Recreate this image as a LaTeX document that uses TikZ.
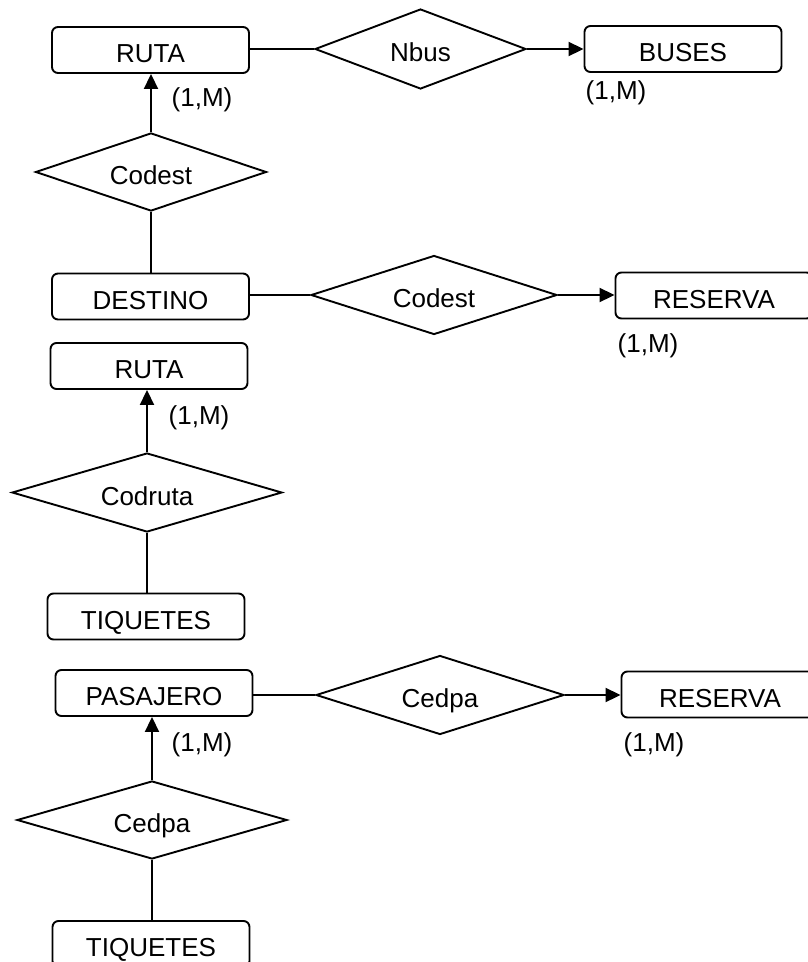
\documentclass[tikz,border=0pt]{standalone}
\usepackage{fontspec}
\setmainfont{Liberation Sans}
\usetikzlibrary{shapes.geometric,arrows.meta}
\begin{document}
\begin{tikzpicture}[x=1pt,y=-1pt,
  line width=1.9pt,
  every node/.style={font=\fontsize{26}{31}\selectfont},
  lifted/.style={text height=25pt,text depth=0pt},
  entity/.style={draw,rectangle,rounded corners=6pt,minimum width=197pt,minimum height=46pt,inner sep=0pt,lifted},
  rel/.style={draw,diamond,inner sep=0pt},
  reltext/.style={inner sep=0pt,lifted},
  card/.style={inner sep=0pt},
  arr/.style={-{Triangle[length=15pt,width=14pt]}}]
\useasboundingbox (0,0) rectangle (808,962);
\clip (0,0) rectangle (808,962);

% RUTA -- Nbus --> BUSES
\node[entity] (ruta1) at (150.5,50) {RUTA};
\node[rel,minimum width=211pt,minimum height=80pt] (nbus) at (420.5,49) {};
\node[reltext] (nbust) at (nbus) {Nbus};
\node[entity] (buses) at (683,49) {BUSES};
\node[card] (c1) at (202,100) {(1,M)};
\node[card] (c2) at (616,93) {(1,M)};
\draw (ruta1.east |- nbus.west) -- (nbus.west);
\draw[arr] (nbus.east) -- (nbus.east -| buses.west);

% DESTINO -- Codest --> RUTA
\node[rel,minimum width=231pt,minimum height=78pt] (codest1) at (151,172) {};
\node[reltext] (codest1t) at (codest1) {Codest};
\node[entity] (destino) at (150.5,296.5) {DESTINO};
\draw[arr] (codest1.north) -- (codest1.north |- ruta1.south);
\draw (codest1.south) -- (codest1.south |- destino.north);

% DESTINO -- Codest --> RESERVA
\node[rel,minimum width=246pt,minimum height=79pt] (codest2) at (434,295) {};
\node[reltext] (codest2t) at (codest2) {Codest};
\node[entity] (reserva1) at (714,295.5) {RESERVA};
\node[card] (c3) at (648,346) {(1,M)};
\draw (destino.east |- codest2.west) -- (codest2.west);
\draw[arr] (codest2.east) -- (codest2.east -| reserva1.west);

% TIQUETES -- Codruta --> RUTA
\node[entity] (ruta2) at (149,366) {RUTA};
\node[card] (c4) at (199,418) {(1,M)};
\node[rel,minimum width=270pt,minimum height=79pt] (codruta) at (147,492.5) {};
\node[reltext] (codrutat) at (codruta) {Codruta};
\node[entity] (tiq1) at (146,616.5) {TIQUETES};
\draw[arr] (codruta.north) -- (codruta.north |- ruta2.south);
\draw (codruta.south) -- (codruta.south |- tiq1.north);

% PASAJERO -- Cedpa --> RESERVA
\node[entity] (pasajero) at (154,693) {PASAJERO};
\node[rel,minimum width=248pt,minimum height=79pt] (cedpa1) at (440,695) {};
\node[reltext] (cedpa1t) at (cedpa1) {Cedpa};
\node[entity] (reserva2) at (720,694.5) {RESERVA};
\node[card] (c5) at (654,745) {(1,M)};
\draw (pasajero.east |- cedpa1.west) -- (cedpa1.west);
\draw[arr] (cedpa1.east) -- (cedpa1.east -| reserva2.west);

% TIQUETES -- Cedpa --> PASAJERO
\node[card] (c6) at (202,745) {(1,M)};
\node[rel,minimum width=270pt,minimum height=78pt] (cedpa2) at (152,820) {};
\node[reltext] (cedpa2t) at (cedpa2) {Cedpa};
\node[entity] (tiq2) at (151,944) {TIQUETES};
\draw[arr] (cedpa2.north) -- (cedpa2.north |- pasajero.south);
\draw (cedpa2.south) -- (cedpa2.south |- tiq2.north);
\end{tikzpicture}
\end{document}
